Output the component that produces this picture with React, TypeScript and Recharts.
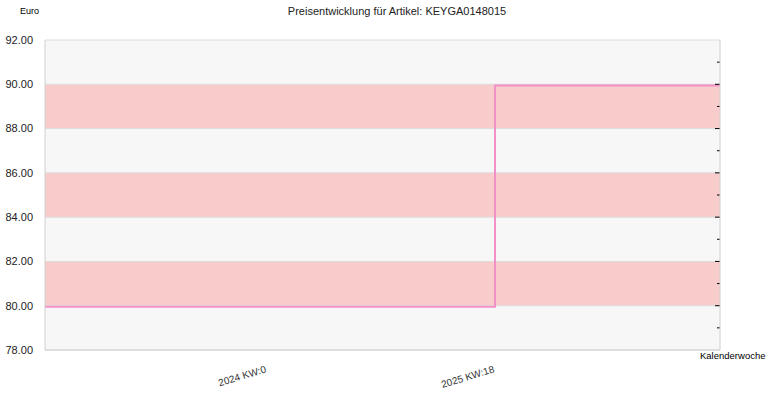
import React from "react";
import {
  LineChart,
  Line,
  XAxis,
  YAxis,
  CartesianGrid,
  ReferenceArea,
  ReferenceLine,
} from "recharts";

// weeks counted from 2024 KW:0
const weeks = [-68, 70, 139];
const prices = [79.95, 89.95, 89.95];
const xTicks = [0, 70];
const xTickLabels = ["2024 KW:0", "2025 KW:18"];
const yTicks = [78, 80, 82, 84, 86, 88, 90, 92];
const minorTicks = [79, 80, 81, 82, 83, 84, 85, 86, 87, 88, 89, 90, 91];
const bands = [
  [80, 82],
  [84, 86],
  [88, 90],
];

const data = weeks.map((w, i) => ({ week: w, price: prices[i] }));

const font = "'Liberation Sans', Arial, sans-serif";

const XTick = (props: any) => {
  const { x, y, payload } = props;
  const idx = xTicks.indexOf(payload.value);
  return (
    <text
      x={x}
      y={y + 14}
      textAnchor="end"
      transform={`rotate(-17 ${x} ${y + 14})`}
      fontSize={10}
      fill="#333"
      fontFamily={font}
    >
      {xTickLabels[idx]}
    </text>
  );
};

const makeTickShape = (v: number) => (p: any) => {
  const len = v % 2 === 0 ? 5 : 3;
  const xr = Math.max(p.x1, p.x2);
  const y = p.y1;
  return <line x1={xr - len} x2={xr} y1={y} y2={y} stroke="#000" strokeWidth={1} />;
};

export default function App() {
  return (
    <div style={{ position: "absolute", left: 0, top: 0, width: 770, height: 400, background: "#fff", fontFamily: font }}>
      <div style={{ position: "absolute", left: 20, top: 6, fontSize: 9, color: "#000" }}>Euro</div>
      <div style={{ position: "absolute", left: 0, width: 794, top: 5, textAlign: "center", fontSize: 11, color: "#222" }}>
        Preisentwicklung für Artikel: KEYGA0148015
      </div>
      <div style={{ position: "absolute", left: 700, top: 350, fontSize: 9.5, color: "#000" }}>Kalenderwoche</div>
      <LineChart
        width={770}
        height={400}
        data={data}
        margin={{ top: 40, right: 49, bottom: 0, left: 0 }}
      >
        <CartesianGrid fill="#f7f7f7" vertical={false} stroke="#dcdcdc" horizontalValues={yTicks} />
        {bands.map(([a, b]) => (
          <ReferenceArea key={a} yAxisId="left" y1={a} y2={b} fill="#f9cccc" fillOpacity={1} stroke="none" />
        ))}
        {yTicks.map((v) => (
          <ReferenceLine key={v} yAxisId="left" y={v} stroke="#dcdcdc" />
        ))}
        <XAxis
          dataKey="week"
          type="number"
          domain={[-68, 139]}
          ticks={xTicks}
          tick={<XTick />}
          tickLine={false}
          axisLine={{ stroke: "#d0d0d0" }}
          height={50}
          interval={0}
        />
        <YAxis
          yAxisId="left"
          domain={[78, 92]}
          ticks={yTicks}
          tickFormatter={(v: number) => v.toFixed(2)}
          tick={{ fontSize: 11, fill: "#222", fontFamily: font }}
          tickLine={false}
          tickMargin={6}
          axisLine={{ stroke: "#d0d0d0" }}
          width={45}
          interval={0}
        />
        <YAxis
          yAxisId="right"
          orientation="right"
          domain={[78, 92]}
          ticks={yTicks}
          tick={false}
          tickLine={false}
          axisLine={{ stroke: "#d0d0d0" }}
          width={1}
        />
        <Line
          yAxisId="left"
          type="stepAfter"
          dataKey="price"
          stroke="#f290c8"
          strokeWidth={2}
          dot={false}
          isAnimationActive={false}
        />
        {minorTicks.map((v) => (
          <ReferenceLine key={`t${v}`} yAxisId="left" y={v} stroke="#000" shape={makeTickShape(v)} />
        ))}
      </LineChart>
    </div>
  );
}
